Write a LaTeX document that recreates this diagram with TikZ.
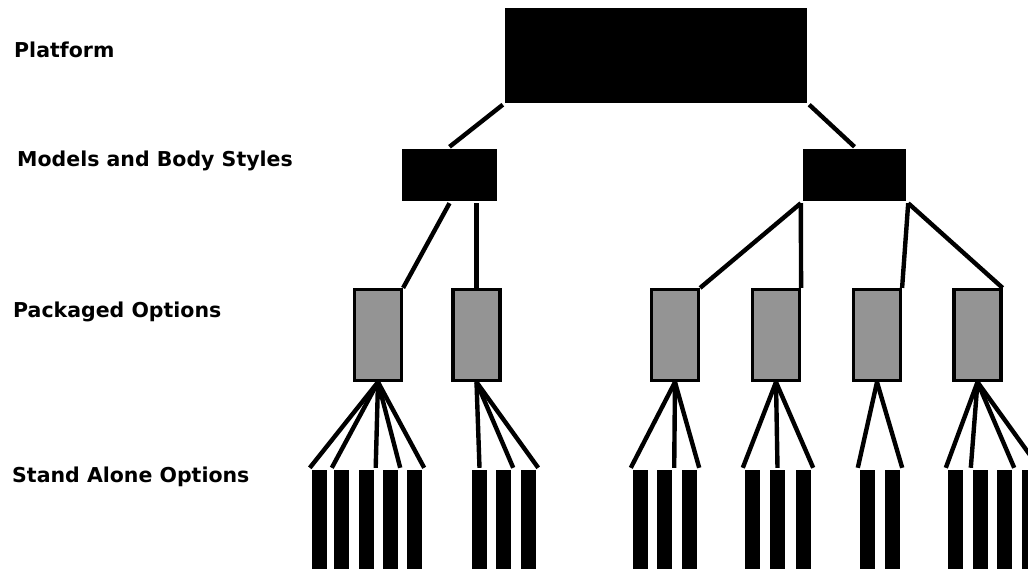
\documentclass[tikz,border=0pt]{standalone}
\usepackage{fontspec}
\setmainfont{DejaVu Sans}
\usetikzlibrary{calc}

\begin{document}
\begin{tikzpicture}[x=1pt, y=-1pt, line width=4.4pt,
  level/.style={anchor=base west, inner sep=0, font=\bfseries\fontsize{20.5}{24}\selectfont},
  solidbox/.style={fill=black, inner sep=0},
  pack/.style={draw, fill=black!42, line width=3.2pt, minimum width=47, minimum height=91, inner sep=0},
  opt/.style={fill=black, inner sep=0, minimum width=15, minimum height=120}]
\useasboundingbox (0,0) rectangle (1028,568);
\clip (0,0) rectangle (1028,568);

\node[level] (lplat) at (12,57) {Platform};
\node[level] (lmod) at (15,166) {Models and Body Styles};
\node[level] (lpack) at (11,317) {Packaged Options};
\node[level] (lopt) at (10,482) {Stand Alone Options};

\node[solidbox, minimum width=302, minimum height=95] (plat) at (656,55) {};
\node[solidbox, minimum width=95, minimum height=52] (m1) at (449.5,175) {};
\node[solidbox, minimum width=103, minimum height=52] (m2) at (854.5,175) {};

\foreach \n/\x in {1/378, 2/476.5, 3/675, 4/776, 5/877, 6/977.5}
  \node[pack] (p\n) at (\x,335) {};

\foreach \n/\x in {11/319.5, 12/341.5, 13/366, 14/390.5, 15/414.5,
                   21/479.5, 22/503.5, 23/528.5,
                   31/640.5, 32/664.5, 33/689.5,
                   41/752.5, 42/777.5, 43/803.5,
                   51/867.5, 52/892.5,
                   61/955.5, 62/980.5, 63/1004.5, 64/1029.5}
  \node[opt] (o\n) at (\x,530) {};

\draw (plat.south west) -- (m1.north);
\draw (plat.south east) -- (m2.north);
\draw (m1.south) -- (p1.north east);
\draw ($(m1.south)!(p2.north)!(m1.south east)$) -- (p2.north);
\draw (m2.south west) -- (p3.north east);
\draw (m2.south west) -- (p4.north east);
\draw (m2.south east) -- (p5.north east);
\draw (m2.south east) -- (p6.north east);

\foreach \p/\o/\a in {p1/o11/north west, p1/o12/north west, p1/o13/north east,
                      p1/o14/north east, p1/o15/north east,
                      p2/o21/north, p2/o22/north east, p2/o23/north east,
                      p3/o31/north west, p3/o32/north east, p3/o33/north east,
                      p4/o41/north west, p4/o42/north, p4/o43/north east,
                      p5/o51/north west, p5/o52/north east,
                      p6/o61/north west, p6/o62/north west, p6/o63/north east,
                      p6/o64/north east}
  \draw (\p.south) -- (\o.\a);
\end{tikzpicture}
\end{document}
